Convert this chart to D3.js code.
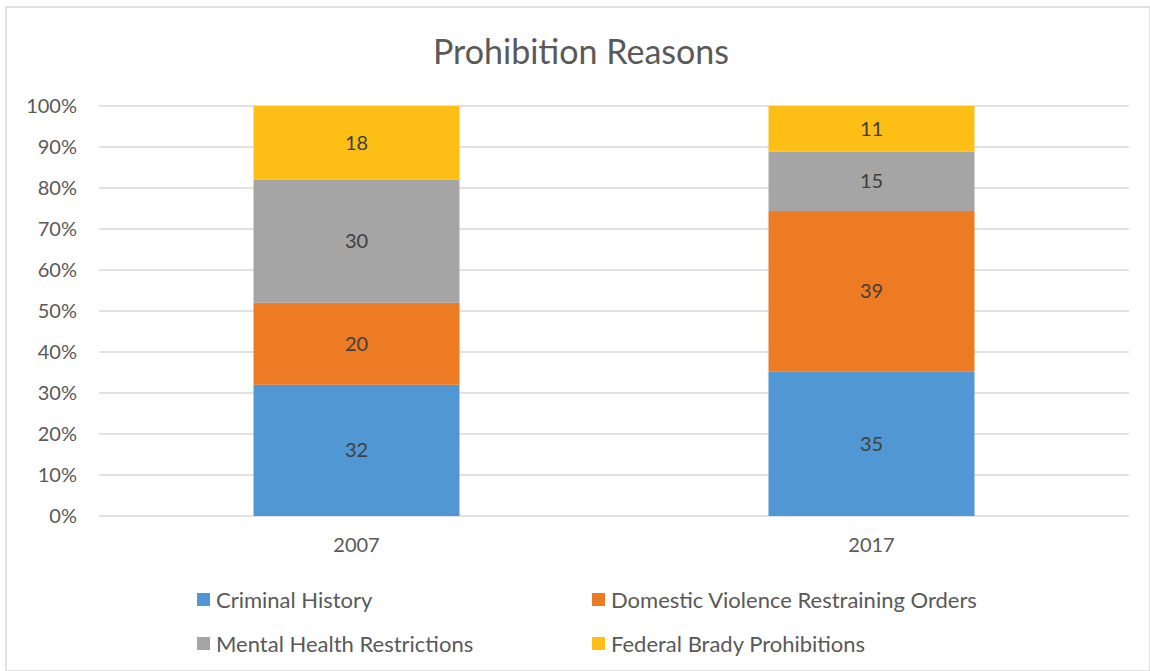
<!DOCTYPE html>
<html>
<head>
<meta charset="utf-8">
<script src="https://cdn.jsdelivr.net/npm/d3@7"></script>
<style>
  body { margin: 0; background: #fff; }
  svg { font-family: Lato, "Open Sans", sans-serif; }
</style>
</head>
<body>
<div id="chart"></div>
<script>
var years = ['2007', '2017'];
var seriesNames = ['Criminal History', 'Domestic Violence Restraining Orders', 'Mental Health Restrictions', 'Federal Brady Prohibitions'];
// values; labels show them rounded
var criminalHistory = [32, 35.4];
var domesticViolence = [20, 39.2];
var mentalHealth = [30, 14.5];
var federalBrady = [18, 11.2];
var tickValues = [0, 0.1, 0.2, 0.3, 0.4, 0.5, 0.6, 0.7, 0.8, 0.9, 1];
var colors = ['#5097d3', '#ed7b24', '#a5a5a5', '#fdbf16'];

var width = 1150, height = 671;
var margin = {top: 106, right: 21, bottom: 155, left: 99};

var rows = years.map(function(y, i) {
  return {
    year: y,
    'Criminal History': criminalHistory[i],
    'Domestic Violence Restraining Orders': domesticViolence[i],
    'Mental Health Restrictions': mentalHealth[i],
    'Federal Brady Prohibitions': federalBrady[i]
  };
});

var stack = d3.stack().keys(seriesNames).offset(d3.stackOffsetExpand);
var layers = stack(rows);

var svg = d3.select('#chart').append('svg')
  .attr('width', width)
  .attr('height', height);

// outer frame
svg.append('rect')
  .attr('x', 6).attr('y', 7)
  .attr('width', width - 6).attr('height', height - 7)
  .attr('fill', 'none')
  .attr('stroke', '#d9d9d9')
  .attr('stroke-width', 1.5);

svg.append('text')
  .attr('x', 581).attr('y', 64)
  .attr('text-anchor', 'middle')
  .attr('fill', '#595959')
  .style('font-size', '34px')
  .text('Prohibition Reasons');

var x = d3.scaleBand()
  .domain(years)
  .range([margin.left, width - margin.right])
  .paddingInner(0.6)
  .paddingOuter(0.3);

var y = d3.scaleLinear()
  .domain([0, 1])
  .range([height - margin.bottom, margin.top]);

// gridlines
svg.append('g')
  .selectAll('line')
  .data(tickValues)
  .enter()
  .append('line')
  .attr('x1', margin.left)
  .attr('x2', width - margin.right)
  .attr('y1', function(d) { return y(d); })
  .attr('y2', function(d) { return y(d); })
  .attr('stroke', '#d9d9d9')
  .attr('stroke-width', 1.5);

var yAxis = d3.axisLeft(y)
  .tickValues(tickValues)
  .tickFormat(d3.format('.0%'))
  .tickSize(0)
  .tickPadding(22);

svg.append('g')
  .attr('transform', 'translate(' + margin.left + ',0)')
  .call(yAxis)
  .call(function(g) { g.select('.domain').remove(); })
  .selectAll('text')
  .attr('fill', '#595959')
  .style('font-size', '20px')
  .style('font-family', 'Lato, "Open Sans", sans-serif');

var xAxis = d3.axisBottom(x).tickSize(0).tickPadding(22);

svg.append('g')
  .attr('transform', 'translate(0,' + (height - margin.bottom) + ')')
  .call(xAxis)
  .call(function(g) { g.select('.domain').remove(); })
  .selectAll('text')
  .attr('fill', '#595959')
  .style('font-size', '20px')
  .style('font-family', 'Lato, "Open Sans", sans-serif');

var layer = svg.selectAll('.layer')
  .data(layers)
  .enter()
  .append('g')
  .attr('class', 'layer')
  .attr('fill', function(d, i) { return colors[i]; });

layer.selectAll('rect')
  .data(function(d) { return d; })
  .enter()
  .append('rect')
  .attr('x', function(d) { return x(d.data.year); })
  .attr('width', x.bandwidth())
  .attr('y', function(d) { return y(d[1]); })
  .attr('height', function(d) { return y(d[0]) - y(d[1]); });

layer.each(function(s) {
  d3.select(this).selectAll('text')
    .data(s)
    .enter()
    .append('text')
    .attr('x', function(d) { return x(d.data.year) + x.bandwidth() / 2; })
    .attr('y', function(d) { return (y(d[0]) + y(d[1])) / 2; })
    .attr('dy', '0.35em')
    .attr('text-anchor', 'middle')
    .attr('fill', '#404040')
    .style('font-size', '20px')
    .text(function(d) { return Math.round(d.data[s.key]); });
});

// legend, two rows of two
var legendPos = [[197, 600], [592, 600], [197, 644], [592, 644]];
var legend = svg.selectAll('.legend')
  .data(seriesNames)
  .enter()
  .append('g')
  .attr('class', 'legend')
  .attr('transform', function(d, i) {
    return 'translate(' + legendPos[i][0] + ',' + legendPos[i][1] + ')';
  });

legend.append('rect')
  .attr('x', 0).attr('y', -7)
  .attr('width', 13).attr('height', 13)
  .attr('fill', function(d, i) { return colors[i]; });

legend.append('text')
  .attr('x', 19)
  .attr('dy', '0.35em')
  .attr('fill', '#595959')
  .style('font-size', '22px')
  .text(function(d) { return d; });
</script>
</body>
</html>
